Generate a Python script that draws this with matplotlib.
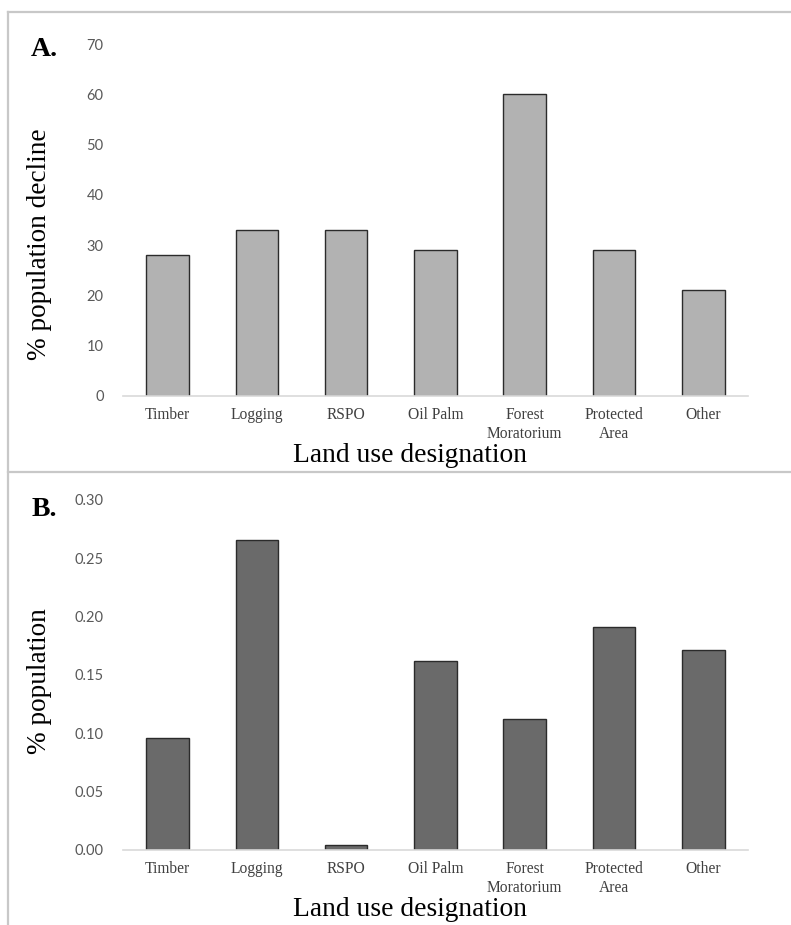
import matplotlib.pyplot as plt
from matplotlib.lines import Line2D

# data
categories = ["Timber", "Logging", "RSPO", "Oil Palm",
              "Forest\nMoratorium", "Protected\nArea", "Other"]
decline_pct = [28, 33, 33, 29, 60, 29, 21]
population_pct = [0.096, 0.266, 0.004, 0.162, 0.112, 0.191, 0.171]

yticks_a = [0, 10, 20, 30, 40, 50, 60, 70]
yticks_b = [0.00, 0.05, 0.10, 0.15, 0.20, 0.25, 0.30]

SERIF = ["Liberation Serif", "DejaVu Serif"]
SANS = ["Lato", "Liberation Sans", "DejaVu Sans"]

fig = plt.figure(figsize=(7.91, 9.25), dpi=100)

ax_a = fig.add_axes([0.1555, 0.5719, 0.790, 0.3805])
ax_b = fig.add_axes([0.1555, 0.0811, 0.790, 0.3784])


def style_panel(ax, values, yticks, ylim, color, fmt, ylabel, ylabel_y):
    x = range(len(categories))
    ax.bar(x, values, width=0.476, color=color, edgecolor="#2b2b2b",
           linewidth=1.0, zorder=3)
    ax.set_xlim(-0.5, len(categories) - 0.5)
    ax.set_ylim(*ylim)
    ax.set_yticks(yticks)
    ax.set_yticklabels([fmt.format(v) for v in yticks], family=SANS,
                       fontsize=10.5, color="#595959")
    ax.set_xticks(list(x))
    ax.set_xticklabels(categories, family=SERIF, fontsize=11.2,
                       color="#404040", linespacing=1.25)
    ax.tick_params(axis="both", length=0)
    ax.tick_params(axis="x", pad=8)
    ax.tick_params(axis="y", pad=14)
    for side in ["top", "right", "left"]:
        ax.spines[side].set_visible(False)
    ax.spines["bottom"].set_color("#d9d9d9")
    ax.spines["bottom"].set_linewidth(1.2)
    ax.spines["bottom"].set_zorder(4)
    ax.set_xlabel("Land use designation", family=SERIF, fontsize=19.8,
                  color="black")
    ax.xaxis.set_label_coords(0.459, -0.17)
    ax.xaxis.label.set_va("center")
    ax.set_ylabel(ylabel, family=SERIF, fontsize=19.6, color="black")
    ax.yaxis.set_label_coords(-0.133, ylabel_y)
    ax.yaxis.label.set_va("center")


style_panel(ax_a, decline_pct, yticks_a, (0, 70), "#b2b2b2", "{:.0f}",
            "% population decline", 0.432)
style_panel(ax_b, population_pct, yticks_b, (0, 0.30), "#6a6a6a", "{:.2f}",
            "% population", 0.483)

# panel letters
fig.text(44 / 791, 1 - 50 / 925, "A.", family=SERIF, fontsize=20,
         fontweight="bold", ha="center", va="center")
fig.text(44 / 791, 1 - 510 / 925, "B.", family=SERIF, fontsize=20,
         fontweight="bold", ha="center", va="center")

# light grey frame lines around the panels
frame = dict(color="#c8c8c8", linewidth=1.6, transform=fig.transFigure)
x0 = 8 / 791
fig.add_artist(Line2D([x0, 1], [1 - 12 / 925] * 2, **frame))
fig.add_artist(Line2D([x0, 1], [1 - 472 / 925] * 2, **frame))
fig.add_artist(Line2D([x0, x0], [1 - 12 / 925, 0], **frame))

fig.savefig("out.png", dpi=100, facecolor="white")
